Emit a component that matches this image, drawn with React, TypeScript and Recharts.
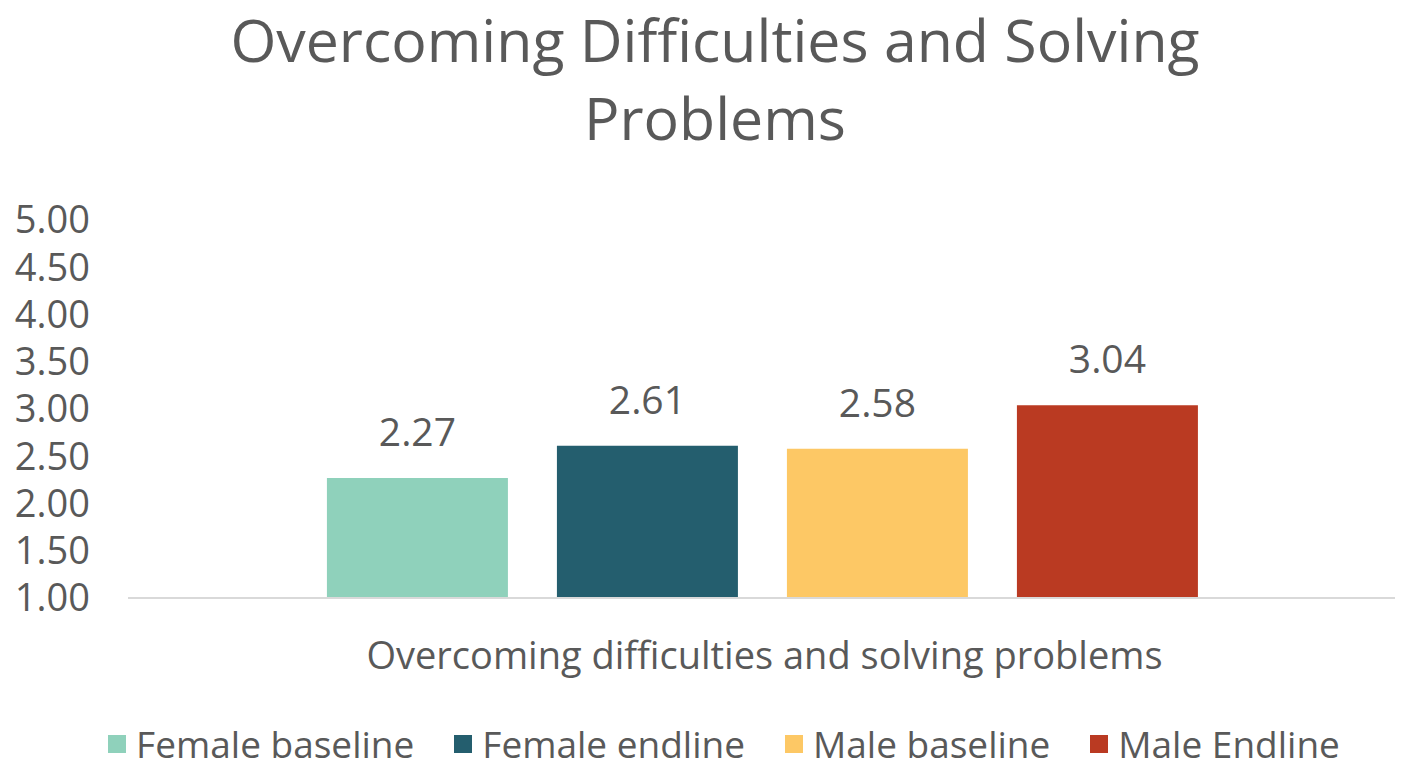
import { Bar, BarChart, LabelList, Legend, XAxis, YAxis } from "recharts";

const categories = ["Overcoming difficulties and solving problems"];
const seriesKeys = ["femaleBaseline", "femaleEndline", "maleBaseline", "maleEndline"];
const seriesNames = ["Female baseline", "Female endline", "Male baseline", "Male Endline"];
const seriesColors = ["#8FD1BB", "#245E6E", "#FDC865", "#BA3A22"];
const femaleBaseline = [2.27];
const femaleEndline = [2.61];
const maleBaseline = [2.58];
const maleEndline = [3.04];
const yTicks = [1, 1.5, 2, 2.5, 3, 3.5, 4, 4.5, 5];

const seriesValues = [femaleBaseline, femaleEndline, maleBaseline, maleEndline];

const chartData = categories.map((category, i) => {
  const row: Record<string, string | number> = { category };
  seriesKeys.forEach((key, s) => {
    row[key] = seriesValues[s][i];
  });
  return row;
});

const FONT = "'Open Sans', sans-serif";
const TEXT = "#595959";

function LegendRow() {
  return (
    <div
      style={{
        display: "flex",
        justifyContent: "center",
        alignItems: "center",
        boxSizing: "border-box",
        width: 1404,
        height: 44,
        lineHeight: "44px",
        paddingLeft: 44,
        fontFamily: FONT,
        fontSize: 37,
        color: TEXT,
        whiteSpace: "nowrap",
      }}
    >
      {seriesNames.map((name, i) => (
        <div key={name} style={{ display: "flex", alignItems: "center", marginRight: i < 3 ? 40 : 0 }}>
          <span style={{ width: 18, height: 18, background: seriesColors[i], marginRight: 10 }} />
          <span>{name}</span>
        </div>
      ))}
    </div>
  );
}

export default function App() {
  return (
    <div style={{ position: "absolute", left: 0, top: 0, width: 1404, height: 769, background: "#fff" }}>
      <div
        style={{
          position: "absolute",
          top: 0,
          left: 0,
          width: 1430,
          textAlign: "center",
          fontFamily: FONT,
          fontSize: 59,
          lineHeight: "78px",
          color: TEXT,
        }}
      >
        Overcoming Difficulties and Solving
        <br />
        Problems
      </div>
      <BarChart
        width={1404}
        height={769}
        data={chartData}
        margin={{ top: 220, right: 9, bottom: 37, left: 0 }}
        barCategoryGap="15.7%"
        barGap={49}
      >
        <XAxis
          dataKey="category"
          axisLine={{ stroke: "#D9D9D9", strokeWidth: 2 }}
          tickLine={false}
          tickSize={0}
          tickMargin={44}
          height={90}
          dx={3}
          tick={{ fill: TEXT, fontSize: 38, fontFamily: FONT }}
        />
        <YAxis
          domain={[1, 5]}
          ticks={yTicks}
          interval={0}
          width={128}
          axisLine={false}
          tickLine={false}
          tickSize={0}
          tickMargin={38}
          tickFormatter={(v: number) => v.toFixed(2)}
          tick={{ fill: TEXT, fontSize: 38, fontFamily: FONT }}
        />
        <Legend
          verticalAlign="bottom"
          content={() => <LegendRow />}
          wrapperStyle={{ top: 722, left: 0, width: 1404, height: 44 }}
        />
        {seriesKeys.map((key, i) => (
          <Bar key={key} dataKey={key} name={seriesNames[i]} fill={seriesColors[i]} isAnimationActive={false}>
            <LabelList
              dataKey={key}
              position="top"
              offset={32}
              formatter={(v: number) => v.toFixed(2)}
              style={{ fill: TEXT, fontSize: 39, fontFamily: FONT }}
            />
          </Bar>
        ))}
      </BarChart>
    </div>
  );
}
